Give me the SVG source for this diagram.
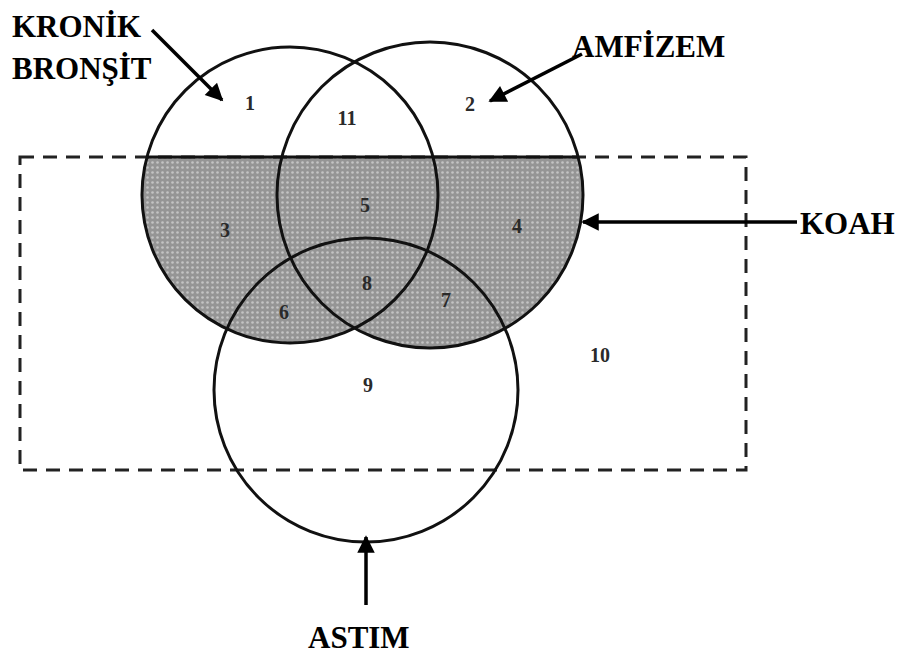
<svg xmlns="http://www.w3.org/2000/svg" width="907" height="660" viewBox="0 0 907 660">
<style>
.lbl{font-family:'Liberation Serif','DejaVu Serif',serif;font-weight:700;font-size:31px;fill:#000}
.num{font-family:'Liberation Serif','DejaVu Serif',serif;font-weight:700;font-size:20px;fill:#2a2a2a;text-anchor:middle}
.circ{fill:none;stroke:#111;stroke-width:3}
.arr{stroke:#000;stroke-width:3.5;fill:none;marker-end:url(#ah)}
</style>
<defs>
<marker id="ah" viewBox="0 0 10 10" refX="9" refY="5" markerWidth="5.5" markerHeight="5" orient="auto" markerUnits="strokeWidth">
<path d="M0,0 L10,5 L0,10 z" fill="#000"/>
</marker>
<pattern id="dots" width="5" height="5" patternUnits="userSpaceOnUse">
<rect width="5" height="5" fill="#959595"/>
<circle cx="2.5" cy="2.5" r="1.3" fill="#c4c4c4"/>
</pattern>
<clipPath id="lowerClip"><rect x="0" y="157" width="907" height="503"/></clipPath>
</defs>
<rect width="907" height="660" fill="#fff"/>
<g id="koah-shading" clip-path="url(#lowerClip)">
<circle cx="290" cy="195" r="148" fill="url(#dots)"/>
<circle cx="430" cy="195" r="153" fill="url(#dots)"/>
</g>
<g id="koah-box">
<rect x="20" y="157" width="726" height="313" fill="none" stroke="#222" stroke-width="3" stroke-dasharray="14,9"/>
<line x1="147" y1="157" x2="578" y2="157" stroke="#111" stroke-width="3"/>
</g>
<g id="kronik-bronsit"><circle class="circ" cx="290" cy="195" r="148"/></g>
<g id="amfizem"><circle class="circ" cx="430" cy="195" r="153"/></g>
<g id="astim"><circle class="circ" cx="366" cy="390" r="152"/></g>
<g id="numbers">
<text class="num" x="250" y="110">1</text>
<text class="num" x="347" y="125">11</text>
<text class="num" x="470" y="111">2</text>
<text class="num" x="225" y="237">3</text>
<text class="num" x="365" y="212">5</text>
<text class="num" x="517" y="233">4</text>
<text class="num" x="367" y="290">8</text>
<text class="num" x="284" y="319">6</text>
<text class="num" x="446" y="307">7</text>
<text class="num" x="368" y="392">9</text>
<text class="num" x="600" y="362">10</text>
</g>
<g id="labels">
<text class="lbl" x="12" y="37">KRONİK</text>
<text class="lbl" x="12" y="79">BRONŞİT</text>
<text class="lbl" x="572" y="57">AMFİZEM</text>
<text class="lbl" x="800" y="234">KOAH</text>
<text class="lbl" x="308" y="648">ASTIM</text>
</g>
<g id="connectors">
<line class="arr" x1="152" y1="30" x2="222" y2="100"/>
<line class="arr" x1="582" y1="54" x2="490" y2="101"/>
<line class="arr" x1="797" y1="222" x2="583" y2="222"/>
<line class="arr" x1="366" y1="605" x2="366" y2="537"/>
</g>
</svg>
